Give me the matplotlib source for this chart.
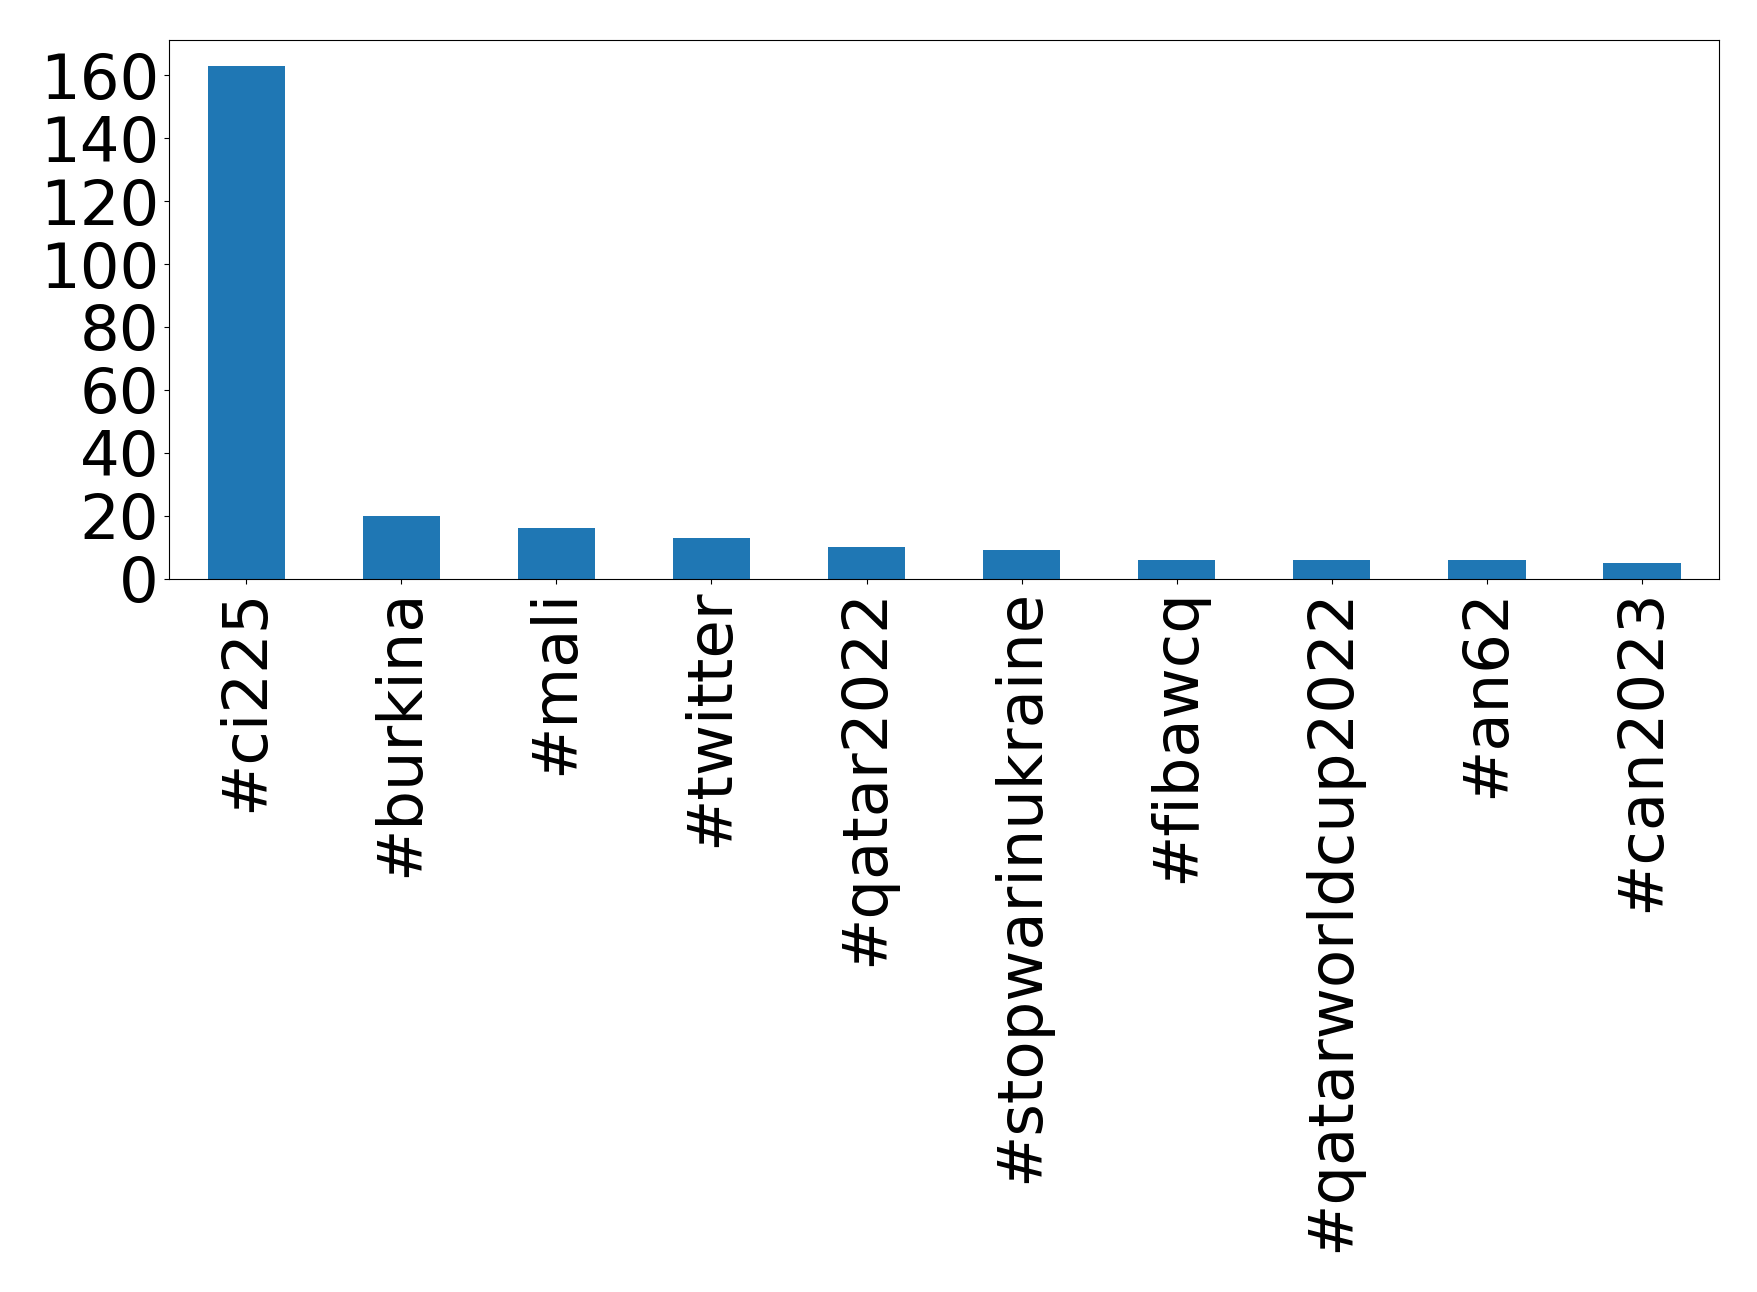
import matplotlib
matplotlib.use("Agg")
import matplotlib.pyplot as plt

# hashtag counts
hashtags = ["#ci225", "#burkina", "#mali", "#twitter", "#qatar2022",
            "#stopwarinukraine", "#fibawcq", "#qatarworldcup2022", "#an62", "#can2023"]
counts = [163, 20, 16, 13, 10, 9, 6, 6, 6, 5]

fig = plt.figure(figsize=(17.58, 12.92), dpi=100)
ax = fig.add_axes([0.096, 0.552, 0.882, 0.417])

pos = list(range(len(hashtags)))
ax.bar(pos, counts, width=0.5, color="#1f77b4")
ax.set_xlim(-0.5, len(hashtags) - 0.5)
ax.set_xticks(pos)
ax.set_xticklabels(hashtags, rotation=90)
ax.set_yticks(range(0, 161, 20))
ax.tick_params(axis="both", labelsize=45)

fig.savefig("out.png", dpi=100)
